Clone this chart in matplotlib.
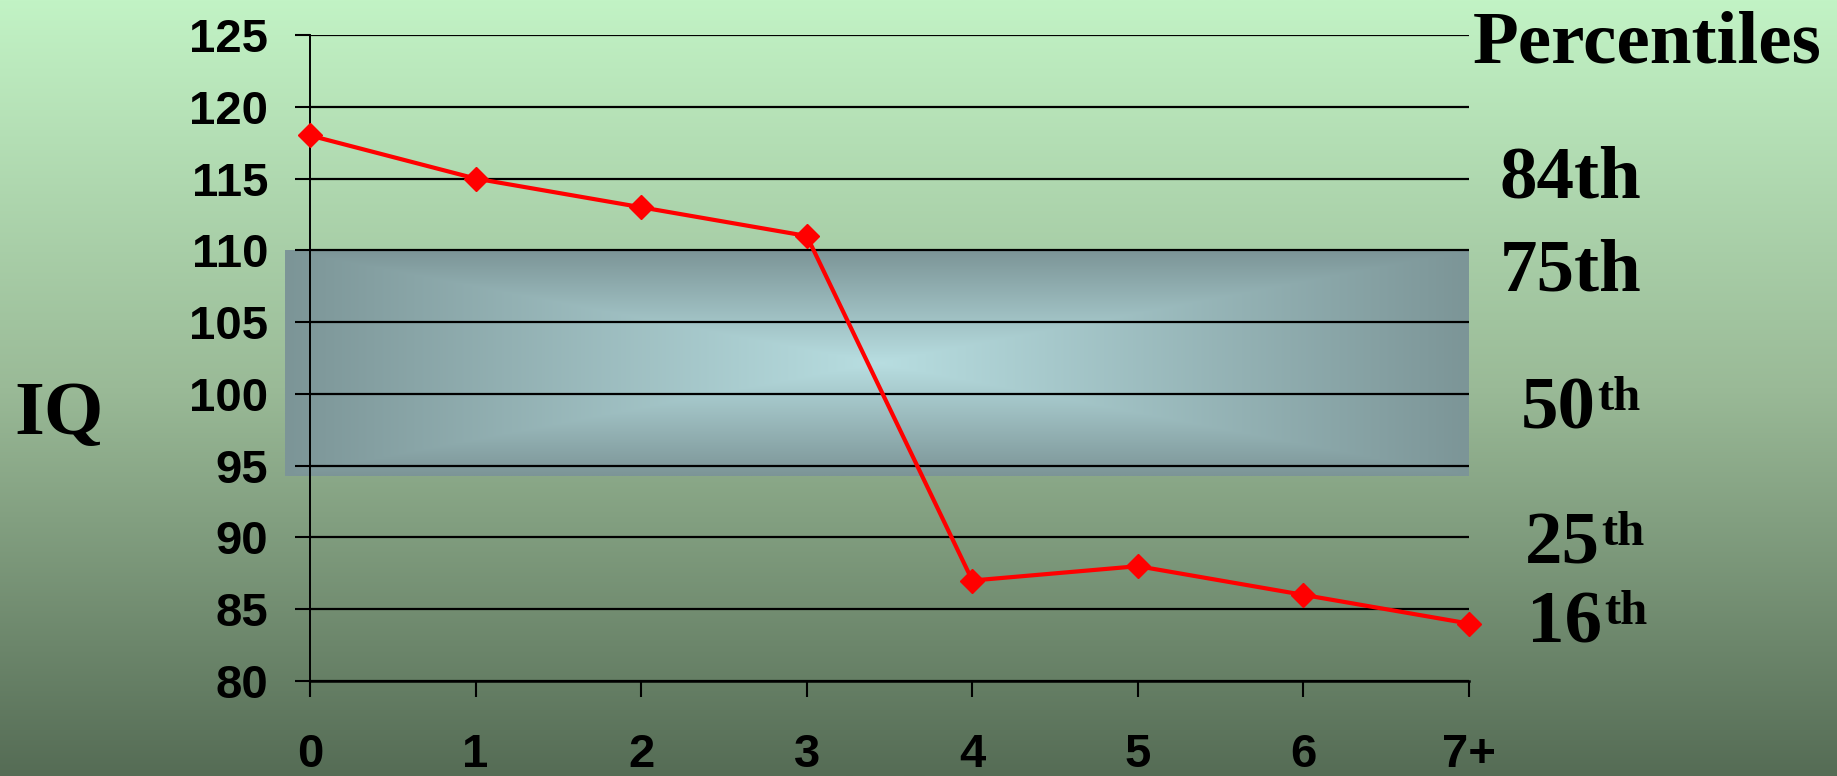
import matplotlib.pyplot as plt
import numpy as np

# data
doses = ["0", "1", "2", "3", "4", "5", "6", "7+"]
iq = [118, 115, 113, 111, 87, 88, 86, 84]
yticks = [80, 85, 90, 95, 100, 105, 110, 115, 120, 125]
band_low, band_high = 94.3, 110

pct_main = ["84th", "75th", "50", "25", "16"]
pct_sup = ["", "", "th", "th", "th"]
pct_base = [113.7, 107.2, 97.6, 88.2, 82.7]   # baseline of each label (IQ scale)
pct_dx = [22, 22, 37, 40, 42]                  # points right of the plot

sans = "Liberation Sans"
serif = "Liberation Serif"

fig = plt.figure(figsize=(18.37, 7.76), dpi=100)

# background: vertical green gradient
bg = fig.add_axes([0, 0, 1, 1], zorder=-10)
stops = np.array([[0xc2, 0xf3, 0xc5], [0x9a, 0xba, 0x97], [0x55, 0x6c, 0x55]]) / 255
t = np.linspace(0, 1, 400)
grad = np.stack([np.interp(t, [0, 0.5, 1], stops[:, c]) for c in range(3)], axis=-1)
bg.imshow(grad[:, None, :], aspect="auto", extent=[0, 1, 0, 1])
bg.set_axis_off()

ax = fig.add_axes([0.1688, 0.1224, 0.6309, 0.8325])
ax.patch.set_alpha(0)

# shaded band (average range) with a rectangular centre gradient
u = np.linspace(-1, 1, 600)[None, :]
v = np.linspace(-1, 1, 200)[:, None]
r = np.clip(np.maximum(np.abs(u), np.abs(v)), 0, 1)[..., None]
centre = np.array([0xb8, 0xde, 0xe1]) / 255
edge = np.array([0x7c, 0x95, 0x97]) / 255
band = centre * (1 - r) + edge * r
ax.imshow(band, aspect="auto", extent=[-0.15, len(doses) - 1, band_low, band_high],
          zorder=0, clip_on=False)

x = np.arange(len(doses))
ax.plot(x, iq, color="red", lw=3, marker="D", ms=12, clip_on=False, zorder=5)

ax.set_xlim(0, len(doses) - 1)
ax.set_ylim(80, 125)
ax.set_xticks(x)
ax.set_xticklabels(doses)
ax.set_yticks(yticks)
ax.grid(axis="y", color="black", lw=1.6)
for s in ["top", "right"]:
    ax.spines[s].set_visible(False)
ax.spines["left"].set_linewidth(1.4)
ax.spines["bottom"].set_linewidth(1.8)
ax.tick_params(axis="y", direction="out", length=11, width=1.5, pad=19)
ax.tick_params(axis="x", direction="out", length=11.5, width=1.5, pad=26)
for lab in ax.get_xticklabels() + ax.get_yticklabels():
    lab.set_fontfamily(sans)
    lab.set_fontweight("bold")
    lab.set_fontsize(34)

fig.text(14 / 1837, 1 - 415 / 776, "IQ", ha="left", va="center",
         family=serif, weight="bold", size=55)

ax.annotate("Percentiles", xy=(1, 1), xycoords="axes fraction", xytext=(3, -19.5),
            textcoords="offset points", ha="left", va="baseline",
            family=serif, weight="bold", size=54, annotation_clip=False)

for main, sup, yb, dx in zip(pct_main, pct_sup, pct_base, pct_dx):
    m = ax.annotate(main, xy=(1, yb), xycoords=("axes fraction", "data"),
                    xytext=(dx, 0), textcoords="offset points", ha="left", va="baseline",
                    family=serif, weight="bold", size=54, annotation_clip=False)
    if sup:
        ax.annotate(sup, xy=(1, 1), xycoords=m, xytext=(1, 0), textcoords="offset points",
                    ha="left", va="top", family=serif, weight="bold", size=35,
                    annotation_clip=False)

fig.savefig("out.png", dpi=100)
